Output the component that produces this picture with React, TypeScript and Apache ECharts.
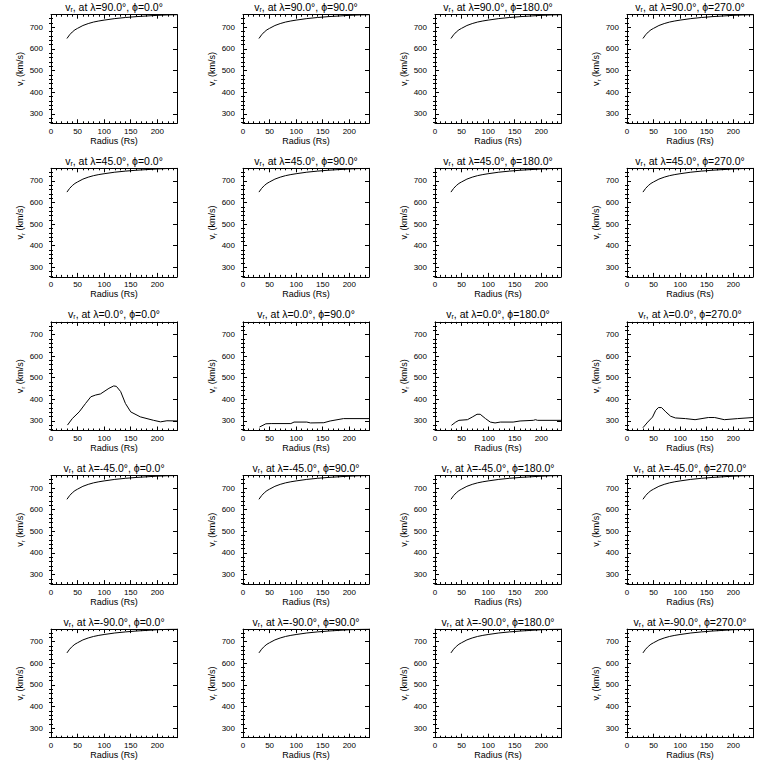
import React, { useEffect, useRef } from "react";
import * as echarts from "echarts";

const latitudes = ["90.0", "45.0", "0.0", "-45.0", "-90.0"];
const longitudes = ["0.0", "90.0", "180.0", "270.0"];

const xMajorTicks = [0, 50, 100, 150, 200];
const xMinorTicks = [10, 20, 30, 40, 60, 70, 80, 90, 110, 120, 130, 140, 160, 170, 180, 190, 210, 220, 230];
const yMajorTicks = [300, 400, 500, 600, 700];
const yMinorTicks = [260, 280, 320, 340, 360, 380, 420, 440, 460, 480, 520, 540, 560, 580, 620, 640, 660, 680, 720, 740];

const fastRadius = [30, 35, 40, 45, 50, 60, 70, 80, 90, 100, 120, 140, 160, 180, 200, 220, 237];
const fastSpeed = [648, 665, 678, 688, 695, 708, 717, 724, 729, 733, 740, 745, 749, 752, 755, 757, 758];

const eqPhi0Radius = [31, 40, 53, 65, 75, 84, 93, 109, 118, 123, 131, 140, 150, 168, 193, 206, 218, 237];
const eqPhi0Speed = [281, 311, 342, 381, 412, 420, 425, 451, 462, 460, 436, 381, 342, 319, 303, 296, 301, 300];

const eqPhi90Radius = [31, 43, 53, 90, 96, 120, 127, 152, 164, 189, 238];
const eqPhi90Speed = [272, 287, 288, 288, 295, 295, 291, 292, 300, 311, 311];

const eqPhi180Radius = [31, 39, 45, 61, 70, 79, 85, 95, 104, 113, 123, 147, 160, 185, 189, 193, 237];
const eqPhi180Speed = [280, 295, 303, 306, 318, 331, 331, 311, 295, 291, 295, 295, 300, 303, 306, 303, 303];

const eqPhi270Radius = [30, 39, 48, 54, 59, 65, 73, 82, 91, 110, 128, 153, 165, 183, 208, 237];
const eqPhi270Speed = [269, 295, 318, 349, 362, 362, 342, 322, 314, 311, 306, 316, 316, 306, 311, 316];

const X_MIN = 0;
const X_MAX = 237;
const Y_MIN = 256;
const Y_MAX = 758;

const FONT = "Liberation Sans";

function pairs(xs: number[], ys: number[]) {
  return xs.map((x, i) => [x, ys[i]]);
}

function seriesFor(lat: string, lonIdx: number) {
  if (lat !== "0.0") return pairs(fastRadius, fastSpeed);
  if (lonIdx === 0) return pairs(eqPhi0Radius, eqPhi0Speed);
  if (lonIdx === 1) return pairs(eqPhi90Radius, eqPhi90Speed);
  if (lonIdx === 2) return pairs(eqPhi180Radius, eqPhi180Speed);
  return pairs(eqPhi270Radius, eqPhi270Speed);
}

export default function App() {
  const ref = useRef<HTMLDivElement>(null);

  useEffect(() => {
    if (!ref.current) return;
    const chart = echarts.init(ref.current, undefined, { renderer: "svg" });

    const grids: any[] = [];
    const xAxes: any[] = [];
    const yAxes: any[] = [];
    const series: any[] = [];
    const graphics: any[] = [];

    const black = { color: "#000", width: 1 };

    latitudes.forEach((lat, r) => {
      longitudes.forEach((lon, c) => {
        const i = r * 4 + c;
        const left = c * 192 + 51;
        const top = r * 153.6 + 14.7;
        const width = 126;
        const height = 108.6;
        grids.push({ left, top, width, height, containLabel: false });

        const baseX = {
          gridIndex: i,
          type: "value",
          min: X_MIN,
          max: X_MAX,
          splitLine: { show: false },
          axisLine: { show: true, onZero: false, lineStyle: black },
        };
        const baseY = {
          gridIndex: i,
          type: "value",
          min: Y_MIN,
          max: Y_MAX,
          splitLine: { show: false },
          axisLine: { show: true, onZero: false, lineStyle: black },
        };

        xAxes.push({
          ...baseX,
          position: "bottom",
          axisTick: { show: true, inside: true, length: 4, lineStyle: black, customValues: xMajorTicks },
          axisLabel: { show: true, color: "#000", fontSize: 8, fontFamily: FONT, margin: 4, customValues: xMajorTicks },
          name: "Radius (Rs)",
          nameLocation: "middle",
          nameGap: 13,
          nameTextStyle: { color: "#000", fontSize: 9, fontFamily: FONT },
        });
        xAxes.push({
          ...baseX,
          position: "bottom",
          axisLine: { show: false },
          axisTick: { show: true, inside: true, length: 2, lineStyle: black, customValues: xMinorTicks },
          axisLabel: { show: false },
        });
        xAxes.push({
          ...baseX,
          position: "top",
          axisTick: { show: true, inside: true, length: 4, lineStyle: black, customValues: xMajorTicks },
          axisLabel: { show: false },
        });
        xAxes.push({
          ...baseX,
          position: "top",
          axisLine: { show: false },
          axisTick: { show: true, inside: true, length: 2, lineStyle: black, customValues: xMinorTicks },
          axisLabel: { show: false },
        });

        yAxes.push({
          ...baseY,
          position: "left",
          axisTick: { show: true, inside: true, length: 4, lineStyle: black, customValues: yMajorTicks },
          axisLabel: { show: true, color: "#000", fontSize: 8, fontFamily: FONT, margin: 8, customValues: yMajorTicks },
          name: "v{sub|r} (km/s)",
          nameLocation: "middle",
          nameGap: 21,
          nameTextStyle: {
            color: "#000",
            fontSize: 9,
            fontFamily: FONT,
            rich: { sub: { fontSize: 6, fontFamily: FONT, color: "#000", padding: [5, 0, 0, 0] } },
          },
        });
        yAxes.push({
          ...baseY,
          position: "left",
          axisLine: { show: false },
          axisTick: { show: true, inside: true, length: 2, lineStyle: black, customValues: yMinorTicks },
          axisLabel: { show: false },
        });
        yAxes.push({
          ...baseY,
          position: "right",
          axisTick: { show: true, inside: true, length: 4, lineStyle: black, customValues: yMajorTicks },
          axisLabel: { show: false },
        });
        yAxes.push({
          ...baseY,
          position: "right",
          axisLine: { show: false },
          axisTick: { show: true, inside: true, length: 2, lineStyle: black, customValues: yMinorTicks },
          axisLabel: { show: false },
        });

        series.push({
          type: "line",
          xAxisIndex: i * 4,
          yAxisIndex: i * 4,
          data: seriesFor(lat, c),
          showSymbol: false,
          symbol: "none",
          smooth: false,
          clip: true,
          lineStyle: { color: "#000", width: 1 },
          silent: true,
        });

        graphics.push({
          type: "text",
          x: left + width / 2,
          y: top - 1.5,
          style: {
            text: `v{sub|r}, at λ=${lat}°, ϕ=${lon}°`,
            fontSize: 10.5,
            fontFamily: FONT,
            fill: "#000",
            align: "center",
            verticalAlign: "bottom",
            rich: { sub: { fontSize: 7, fontFamily: FONT, fill: "#000", padding: [5, 0, 0, 0] } },
          },
        });
      });
    });

    chart.setOption({
      animation: false,
      backgroundColor: "#fff",
      grid: grids,
      xAxis: xAxes,
      yAxis: yAxes,
      series,
      graphic: graphics,
    });

    return () => chart.dispose();
  }, []);

  return (
    <div
      ref={ref}
      style={{ position: "absolute", left: 0, top: 0, width: 768, height: 768, background: "#fff" }}
    />
  );
}
